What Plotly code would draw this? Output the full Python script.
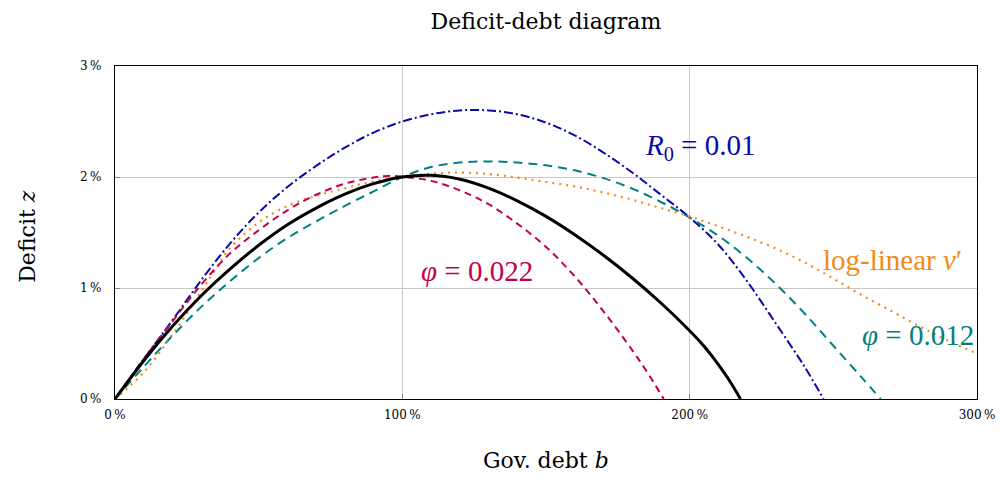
import plotly.graph_objects as go

# Government debt b (share of output) and primary deficit z for each curve
b_base = [0, 0.1, 0.2, 0.3, 0.4, 0.5, 0.6, 0.7, 0.8, 0.9, 1.0, 1.1, 1.2, 1.3, 1.4,
          1.5, 1.6, 1.7, 1.8, 1.9, 2.0, 2.05, 2.1, 2.14, 2.177]
z_base = [0, 0.00345, 0.00655, 0.0093, 0.0117, 0.01385, 0.0157, 0.0172, 0.01845, 0.0194,
          0.0200, 0.02015, 0.0198, 0.0190, 0.01785, 0.01645, 0.0148, 0.01295, 0.0109, 0.00865,
          0.00615, 0.00475, 0.0031, 0.0016, 0]

b_phi_hi = [0, 0.1, 0.2, 0.3, 0.4, 0.5, 0.6, 0.7, 0.8, 0.9, 0.95, 1.0, 1.1, 1.2, 1.3,
            1.4, 1.5, 1.6, 1.7, 1.8, 1.85, 1.91]
z_phi_hi = [0, 0.0036, 0.0070, 0.0103, 0.0131, 0.0152, 0.0170, 0.0184, 0.0194, 0.01995,
            0.0201, 0.02003, 0.01965, 0.0188, 0.01755, 0.0158, 0.0137, 0.01105, 0.0079, 0.0044,
            0.0025, 0]

b_r0 = [0, 0.1, 0.2, 0.3, 0.4, 0.5, 0.6, 0.7, 0.8, 0.9, 1.0, 1.1, 1.2, 1.3, 1.4, 1.5,
        1.6, 1.7, 1.8, 1.9, 2.0, 2.1, 2.2, 2.3, 2.4, 2.466]
z_r0 = [0, 0.0036, 0.0071, 0.0107, 0.0140, 0.0168, 0.0191, 0.0210, 0.02265, 0.0240,
        0.0250, 0.02565, 0.0260, 0.0260, 0.02565, 0.0249, 0.02375, 0.0222, 0.0204, 0.0184,
        0.01635, 0.0139, 0.0106, 0.0068, 0.0029, 0]

b_phi_lo = [0, 0.1, 0.2, 0.3, 0.4, 0.5, 0.6, 0.7, 0.8, 0.9, 1.0, 1.1, 1.2, 1.3, 1.4,
            1.5, 1.6, 1.7, 1.8, 1.9, 2.0, 2.1, 2.2, 2.3, 2.4, 2.5, 2.6, 2.665]
z_phi_lo = [0, 0.0029, 0.0057, 0.0083, 0.0106, 0.0127, 0.0145, 0.0160, 0.0174, 0.0187,
            0.0200, 0.0209, 0.0213, 0.0214, 0.0213, 0.02105, 0.0206, 0.0199, 0.01895, 0.01775,
            0.01635, 0.0147, 0.0127, 0.01035, 0.0077, 0.0048, 0.0019, 0]

b_loglin = [0, 0.1, 0.2, 0.3, 0.35, 0.4, 0.5, 0.6, 0.7, 0.8, 0.9, 1.0, 1.1, 1.2, 1.3,
            1.4, 1.5, 1.6, 1.7, 1.8, 1.9, 2.0, 2.1, 2.2, 2.3, 2.4, 2.5, 2.6, 2.7, 2.8, 2.9, 3.0]
z_loglin = [0, 0.0024, 0.0058, 0.0097, 0.0117, 0.0136, 0.0159, 0.0174, 0.0183, 0.0190,
            0.0196, 0.02005, 0.0203, 0.0204, 0.02027, 0.01995, 0.01955, 0.01915, 0.0186,
            0.01795, 0.0172, 0.01645, 0.01555, 0.0146, 0.01355, 0.0123, 0.01085, 0.00935,
            0.00795, 0.00655, 0.00525, 0.0041]

x_ticks = [0, 1, 2, 3]
x_tick_text = ["0\u2009%", "100\u2009%", "200\u2009%", "300\u2009%"]
y_ticks = [0, 0.01, 0.02, 0.03]
y_tick_text = ["0\u2009%", "1\u2009%", "2\u2009%", "3\u2009%"]

BLUE = "#0a0aa8"
CRIMSON = "#c4004a"
TEAL = "#008080"
ORANGE = "#f28a18"
FONT = "DejaVu Serif"
LABEL_FONT = "Liberation Serif"

fig = go.Figure()
fig.add_trace(go.Scatter(x=b_r0, y=z_r0, mode="lines",
                         line=dict(color=BLUE, width=2, dash="9px,3px,2px,3px", shape="spline")))
fig.add_trace(go.Scatter(x=b_phi_lo, y=z_phi_lo, mode="lines",
                         line=dict(color=TEAL, width=2, dash="9px,6px", shape="spline")))
fig.add_trace(go.Scatter(x=b_loglin, y=z_loglin, mode="lines",
                         line=dict(color=ORANGE, width=2.2, dash="2px,5px", shape="spline")))
fig.add_trace(go.Scatter(x=b_phi_hi, y=z_phi_hi, mode="lines",
                         line=dict(color=CRIMSON, width=2, dash="7px,5px", shape="spline")))
fig.add_trace(go.Scatter(x=b_base, y=z_base, mode="lines",
                         line=dict(color="black", width=3, shape="spline")))

# Curve labels placed in data coordinates
labels = [
    (2.036, 0.0227, "<i>R</i><sub>0</sub> = 0.01", BLUE),
    (1.26, 0.01153, "<i>φ</i> = 0.022", CRIMSON),
    (2.705, 0.01252, "log-linear <i>v</i>′", ORANGE),
    (2.795, 0.00577, "<i>φ</i> = 0.012", TEAL),
]
for x, y, text, color in labels:
    fig.add_annotation(x=x, y=y, text=text, showarrow=False,
                       font=dict(family=LABEL_FONT, size=29, color=color))

# Axis titles as paper-anchored text so the plot area keeps its fixed margins
fig.add_annotation(x=0.5, y=-0.186, xref="paper", yref="paper", showarrow=False,
                   text="Gov. debt <i>b</i>", xanchor="center", yanchor="middle",
                   font=dict(family=FONT, size=22, color="black"))
fig.add_annotation(x=-0.101, y=0.49, xref="paper", yref="paper", showarrow=False,
                   text="Deficit <i>z</i>", textangle=-90, xanchor="center", yanchor="middle",
                   font=dict(family=FONT, size=22, color="black"))

axis_common = dict(
    showline=True, linecolor="black", linewidth=1.3, mirror=True,
    showgrid=True, gridcolor="#c8c8c8", gridwidth=1,
    ticks="inside", ticklen=5, tickcolor="#888888",
    tickfont=dict(family=FONT, size=12, color="black"),
    zeroline=False, automargin=False,
)

fig.update_layout(
    width=1001, height=478,
    margin=dict(l=115, r=24, t=66, b=79),
    paper_bgcolor="white", plot_bgcolor="white",
    showlegend=False,
    title=dict(text="Deficit-debt diagram", x=0.5454, xanchor="center", y=0.955,
               yanchor="middle", font=dict(family=FONT, size=22, color="black")),
    xaxis=dict(range=[0, 3], tickvals=x_ticks, ticktext=x_tick_text, ticklabelstandoff=4,
               **axis_common),
    yaxis=dict(range=[0, 0.03], tickvals=y_ticks, ticktext=y_tick_text, ticklabelstandoff=10,
               **axis_common),
)

fig.write_html("out.html")
